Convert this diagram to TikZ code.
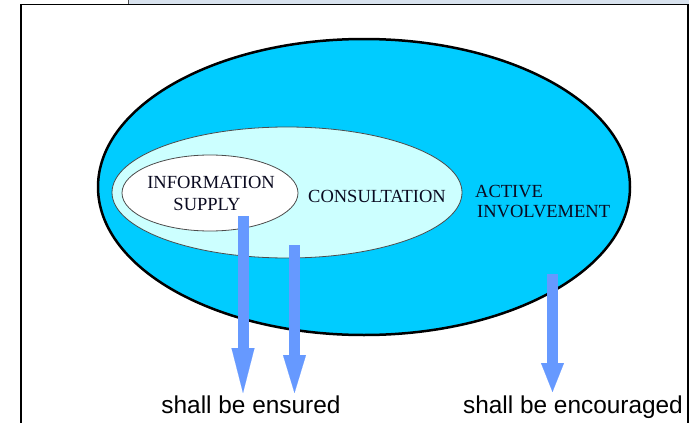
\documentclass[tikz,border=0pt]{standalone}
\usepackage{fontspec}
\setmainfont{Liberation Serif}
\newfontfamily\arialf{Liberation Sans}
\usetikzlibrary{shapes.geometric,arrows.meta}
\definecolor{outerc}{HTML}{00CCFF}
\definecolor{midc}{HTML}{CCFFFF}
\definecolor{arrc}{HTML}{6699FF}
\definecolor{bandc}{HTML}{D8E2EE}
\definecolor{txtc}{HTML}{0A0A20}
\tikzset{
  ell/.style={ellipse, inner sep=0pt, draw=black!70, line width=0.8pt},
  lab/.style={font=\fontsize{18.5}{20}\selectfont, text=txtc, anchor=base, inner sep=0pt},
  caption/.style={font=\arialf\fontsize{24.4}{26}\selectfont, anchor=base, inner sep=0pt},
  bigarrow/.style={draw=arrc, line width=11pt, -{Triangle[length=#1, width=23pt, line width=0.1pt]}},
}
\begin{document}
\begin{tikzpicture}[x=1pt,y=1pt]
\useasboundingbox (0,0) rectangle (689,-423);
% top band and frame
\fill[bandc] (128,0) rectangle (689,-4);
\draw[black!70, line width=1pt] (128,0) -- (128,-4);
\draw[black, line width=1.6pt] (21,-450) -- (21,-4.5) -- (688,-4.5) -- (688,-450);
% ellipses
\node[ell, fill=outerc, draw=black, line width=2.5pt, minimum width=532pt, minimum height=296pt] (outer) at (364,-187) {};
\node[ell, fill=midc, minimum width=350pt, minimum height=131pt] (mid) at (287,-192.5) {};
\node[ell, fill=white, minimum width=176pt, minimum height=76pt] (inner) at (210,-193) {};
% labels
\node[lab] (info1) at (211,-188) {INFORMATION};
\node[lab] (info2) at (207,-210) {SUPPLY};
\node[lab] (cons) at (377,-202) {CONSULTATION};
\node[lab, anchor=base west] (act1) at (475,-197) {ACTIVE};
\node[lab, anchor=base west] (act2) at (477,-217) {INVOLVEMENT};
% captions
\node[caption] (ens) at (251,-413) {shall be ensured};
\node[caption] (enc) at (573,-413) {shall be encouraged};
% arrows
\coordinate (a1s) at (243,-216);
\coordinate (a1e) at (243,-393);
\coordinate (a2s) at (294.5,-245);
\coordinate (a2e) at (294.5,-393);
\coordinate (a3s) at (552.5,-274);
\coordinate (a3e) at (552.5,-392);
\draw[bigarrow=45pt] (a1s) -- (a1e);
\draw[bigarrow=38pt] (a2s) -- (a2e);
\draw[bigarrow=29pt] (a3s) -- (a3e);
\end{tikzpicture}
\end{document}
